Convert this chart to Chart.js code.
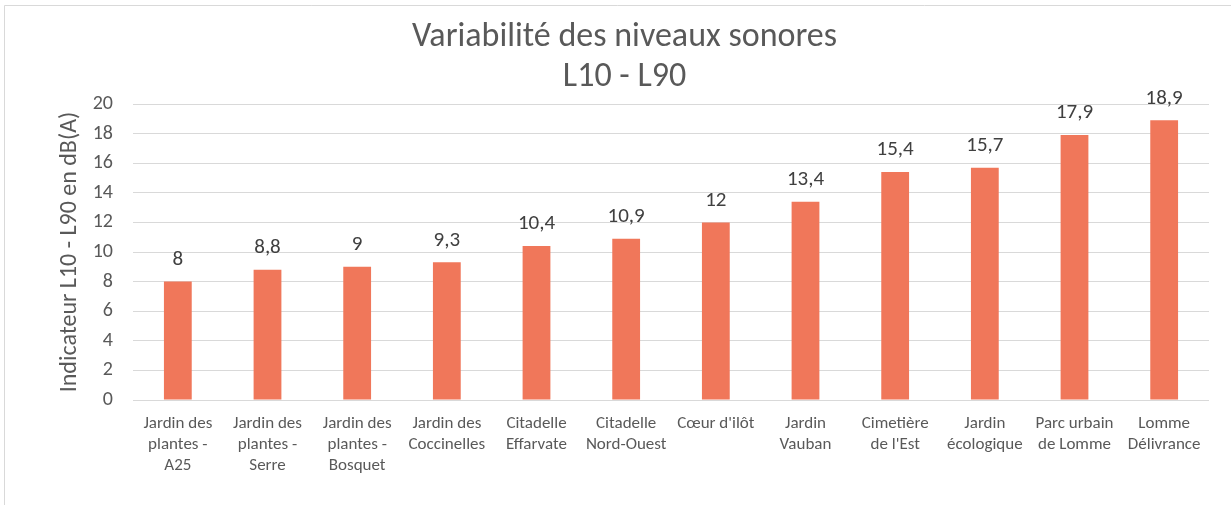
<!DOCTYPE html>
<html>
<head>
<meta charset="utf-8">
<script src="https://cdn.jsdelivr.net/npm/chart.js"></script>
<style>
  html, body { margin: 0; padding: 0; background: #fff; }
  #wrap { width: 1231px; height: 505px; }
</style>
</head>
<body>
<div id="wrap"><canvas id="soundChart" width="1231" height="505"></canvas></div>
<script>
const sites = [
    ['Jardin des', 'plantes -', 'A25'],
    ['Jardin des', 'plantes -', 'Serre'],
    ['Jardin des', 'plantes -', 'Bosquet'],
    ['Jardin des', 'Coccinelles'],
    ['Citadelle', 'Effarvate'],
    ['Citadelle', 'Nord-Ouest'],
    ["Cœur d'ilôt"],
    ['Jardin', 'Vauban'],
    ['Cimetière', "de l'Est"],
    ['Jardin', 'écologique'],
    ['Parc urbain', 'de Lomme'],
    ['Lomme', 'Délivrance']
];
const l10MinusL90 = [8, 8.8, 9, 9.3, 10.4, 10.9, 12, 13.4, 15.4, 15.7, 17.9, 18.9];
const yTicks = [0, 2, 4, 6, 8, 10, 12, 14, 16, 18, 20];

const FONT = 'Carlito, Lato, "Open Sans", sans-serif';

function frLabel(v) {
    return String(v).replace('.', ',');
}

// white background + the thin frame of the Excel chart object
const framePlugin = {
    id: 'frame',
    beforeDraw(chart) {
        const ctx = chart.ctx;
        ctx.save();
        ctx.fillStyle = '#fff';
        ctx.fillRect(0, 0, chart.width, chart.height);
        ctx.strokeStyle = '#d9d9d9';
        ctx.lineWidth = 1;
        ctx.beginPath();
        ctx.moveTo(4.5, chart.height);
        ctx.lineTo(4.5, 5.5);
        ctx.lineTo(chart.width, 5.5);
        ctx.stroke();
        ctx.restore();
    }
};

// value labels above each bar
const valueLabels = {
    id: 'valueLabels',
    afterDatasetsDraw(chart) {
        const ctx = chart.ctx;
        const meta = chart.getDatasetMeta(0);
        ctx.save();
        ctx.font = '21px ' + FONT;
        ctx.fillStyle = '#404040';
        ctx.textAlign = 'center';
        ctx.textBaseline = 'middle';
        meta.data.forEach((bar, i) => {
            ctx.fillText(frLabel(l10MinusL90[i]), bar.x, bar.y - 22);
        });
        ctx.restore();
    }
};

new Chart(document.getElementById('soundChart'), {
    type: 'bar',
    data: {
        labels: sites,
        datasets: [{
            data: l10MinusL90,
            backgroundColor: '#f0775a',
            borderWidth: 0,
            barPercentage: 0.31,
            categoryPercentage: 1
        }]
    },
    options: {
        responsive: false,
        animation: false,
        layout: { padding: { left: 40, right: 22, top: 0, bottom: 0 } },
        plugins: {
            legend: { display: false },
            tooltip: { enabled: false },
            title: {
                display: true,
                text: ['Variabilité des niveaux sonores', 'L10 - L90'],
                color: '#595959',
                font: { family: FONT, size: 34, weight: 'normal', lineHeight: '40px' },
                padding: { top: 17, bottom: 7 }
            }
        },
        scales: {
            x: {
                grid: { display: false },
                border: { display: false },
                ticks: {
                    color: '#595959',
                    font: { family: FONT, size: 17, lineHeight: '21px' },
                    padding: 5,
                    maxRotation: 0,
                    autoSkip: false
                },
                afterFit(scale) { scale.height = 105; }
            },
            y: {
                min: 0,
                max: 20,
                afterBuildTicks(scale) {
                    scale.ticks = yTicks.map(v => ({ value: v }));
                },
                grid: { color: '#d9d9d9', drawTicks: false },
                border: { display: false },
                ticks: {
                    color: '#595959',
                    font: { family: FONT, size: 20 },
                    padding: 20
                },
                title: {
                    display: true,
                    text: 'Indicateur L10 - L90 en dB(A)',
                    color: '#595959',
                    font: { family: FONT, size: 24 },
                    padding: { top: 16, bottom: 0 }
                },
                afterFit(scale) { scale.width = 93; }
            }
        }
    },
    plugins: [framePlugin, valueLabels]
});
</script>
</body>
</html>
